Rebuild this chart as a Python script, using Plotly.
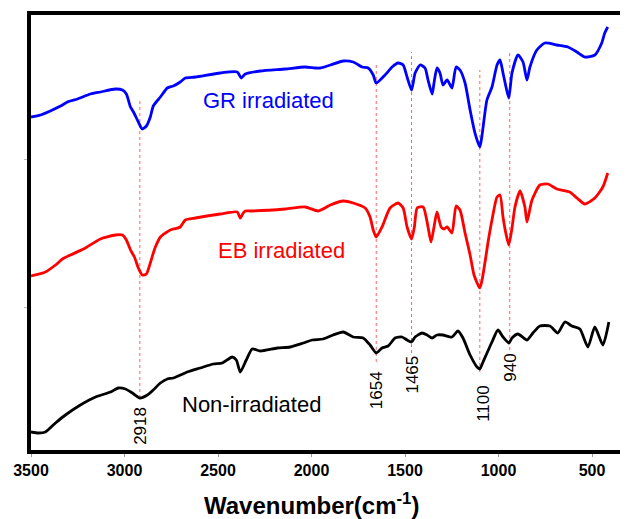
import plotly.graph_objects as go

# ---- data (wavenumber in cm^-1, transmittance in arbitrary offset units) ----
gr_wn = [3500, 3449, 3342, 3305, 3252, 3182, 3129, 3049, 3011, 2990, 2968, 2952, 2926, 2905,
         2883, 2862, 2846, 2808, 2771, 2739, 2702, 2675, 2621, 2488, 2397, 2376, 2354, 2274,
         2140, 2034, 1980, 1953, 1899, 1830, 1777, 1729, 1697, 1670, 1654, 1607, 1569, 1537,
         1510, 1489, 1465, 1446, 1419, 1393, 1377, 1355, 1345, 1329, 1313, 1297, 1275, 1249,
         1227, 1206, 1179, 1152, 1126, 1100, 1088, 1062, 1035, 1008, 992, 976, 960, 945, 928,
         896, 869, 848, 832, 795, 752, 688, 629, 581, 538, 485, 448, 432, 416]
gr_t = [335, 337, 346, 350, 353, 358, 360, 363, 362, 358, 345, 340, 330, 323,
        326, 335, 346, 355, 364, 366, 370, 374, 375, 379, 380, 374, 378, 381,
        383, 385, 384, 384, 387, 391, 390, 385, 384, 377, 369, 377, 385, 389,
        387, 375, 362, 379, 387, 384, 372, 358, 369, 384, 379, 367, 372, 364,
        385, 382, 369, 342, 319, 305, 317, 352, 365, 387, 392, 379, 365, 354, 379,
        397, 390, 372, 385, 402, 409, 407, 405, 400, 395, 397, 409, 419, 425]

eb_wn = [3500, 3423, 3369, 3332, 3289, 3209, 3129, 3049, 3011, 2990, 2968, 2947, 2926, 2905,
         2883, 2862, 2846, 2835, 2808, 2781, 2755, 2702, 2675, 2621, 2488, 2397, 2381, 2365,
         2354, 2327, 2140, 2034, 1964, 1899, 1830, 1777, 1713, 1687, 1670, 1654, 1623, 1580,
         1537, 1510, 1489, 1465, 1450, 1435, 1403, 1377, 1361, 1345, 1329, 1307, 1291, 1275,
         1249, 1227, 1206, 1179, 1152, 1131, 1100, 1088, 1072, 1056, 1035, 1008, 992, 976,
         960, 945, 928, 912, 885, 859, 848, 821, 779, 736, 688, 619, 581, 538, 485, 442, 416]
eb_t = [176, 180, 187, 193, 197, 204, 213, 217, 217, 212, 202, 195, 184, 177,
        178, 189, 199, 205, 215, 219, 222, 225, 232, 234, 238, 240, 234, 239,
        241, 241, 243, 245, 241, 247, 251, 249, 244, 235, 222, 215, 225, 244,
        249, 244, 225, 213, 225, 244, 245, 225, 210, 225, 240, 225, 223, 225,
        219, 246, 242, 219, 197, 177, 164, 172, 190, 210, 232, 255, 257, 235,
        218, 207, 224, 245, 261, 245, 230, 252, 267, 268, 263, 260, 254, 248, 254, 265, 279]

ni_wn = [3500, 3460, 3423, 3369, 3316, 3236, 3155, 3075, 3033, 2995, 2958, 2918, 2878, 2846,
         2808, 2771, 2739, 2664, 2595, 2525, 2477, 2424, 2402, 2381, 2349, 2317, 2274, 2183,
         2114, 2044, 1996, 1938, 1884, 1830, 1777, 1724, 1687, 1654, 1623, 1590, 1553, 1516,
         1489, 1465, 1446, 1409, 1382, 1355, 1329, 1297, 1249, 1217, 1190, 1152, 1115, 1100,
         1083, 1035, 1003, 976, 945, 928, 896, 848, 816, 779, 725, 683, 645, 608, 565, 522,
         485, 442, 410]
ni_t = [20, 19, 20, 29, 37, 47, 55, 60, 64, 63, 59, 54, 57, 62,
        69, 73, 74, 80, 84, 88, 89, 95, 92, 80, 92, 103, 101, 104,
        105, 109, 112, 113, 117, 120, 115, 114, 107, 99, 104, 106, 114, 115,
        112, 110, 115, 119, 117, 114, 117, 117, 115, 121, 114, 97, 85, 83,
        90, 110, 122, 115, 109, 114, 118, 112, 119, 126, 126, 119, 130, 126, 123, 105,
        125, 107, 130]

peak_wn = [2918, 1654, 1465, 1100, 940]
peak_labels = ["2918", "1654", "1465", "1100", "940"]
x_ticks = [3500, 3000, 2500, 2000, 1500, 1000, 500]

# ---- layout constants ----
guide_top = [352, 390, 400, 382, 402]
guide_bottom = [54, 90, 99, 80, 102]
label_y = [26, 62, 77, 49, 84]
label_shift = [0, 0, 0, 3, 0]

FONT = "Liberation Sans, Arial, sans-serif"

fig = go.Figure()
for wn, t, color in [(gr_wn, gr_t, "#0000FF"), (eb_wn, eb_t, "#FF0000"), (ni_wn, ni_t, "#000000")]:
    fig.add_trace(go.Scatter(x=wn, y=t, mode="lines",
                             line=dict(color=color, width=2.8, shape="spline", smoothing=0.6),
                             showlegend=False, hoverinfo="skip"))

for p, y0, y1 in zip(peak_wn, guide_bottom, guide_top):
    fig.add_shape(type="line", xref="x", yref="y", x0=p, x1=p, y0=y0, y1=y1,
                  line=dict(color="#FF6060", width=1, dash="dot"), layer="below")

for p, lab, ly, dx in zip(peak_wn, peak_labels, label_y, label_shift):
    fig.add_annotation(x=p, y=ly, xref="x", yref="y", text=lab, showarrow=False,
                       textangle=-90, xshift=dx,
                       font=dict(family=FONT, size=17, color="black"))

curve_labels = [("GR irradiated", 2231, 352, "#0000FF"),
                ("EB irradiated", 2162, 202, "#FF0000"),
                ("Non-irradiated", 2322, 48, "#000000")]
for txt, x, y, c in curve_labels:
    fig.add_annotation(x=x, y=y, xref="x", yref="y", text=txt, showarrow=False,
                       font=dict(family=FONT, size=22, color=c))

fig.add_annotation(x=0.47, y=-0.125, xref="paper", yref="paper",
                   xanchor="center", yanchor="middle",
                   text="Wavenumber(cm<sup>-1</sup>)", showarrow=False,
                   font=dict(family=FONT, size=24, color="black", weight="bold"))

# right border (thin gray)
fig.add_shape(type="line", xref="paper", yref="paper", x0=1, x1=1, y0=0, y1=1,
              line=dict(color="#999999", width=1))

fig.update_layout(
    width=620, height=511,
    margin=dict(l=23, r=1, t=7, b=69),
    paper_bgcolor="white", plot_bgcolor="white",
    showlegend=False,
    xaxis=dict(range=[3500, 313], tickvals=x_ticks, ticktext=[str(v) for v in x_ticks],
               showline=True, linewidth=4, linecolor="black", mirror=True,
               ticks="outside", ticklen=3, tickcolor="#999999",
               showgrid=False, zeroline=False,
               tickfont=dict(family=FONT, size=16, color="black", weight="bold")),
    yaxis=dict(range=[2, 437], tickvals=[145, 293], showticklabels=False,
               showline=True, linewidth=4, linecolor="black",
               ticks="outside", ticklen=3, tickcolor="#bbbbbb",
               showgrid=False, zeroline=False),
)

fig.write_html("out.html")
